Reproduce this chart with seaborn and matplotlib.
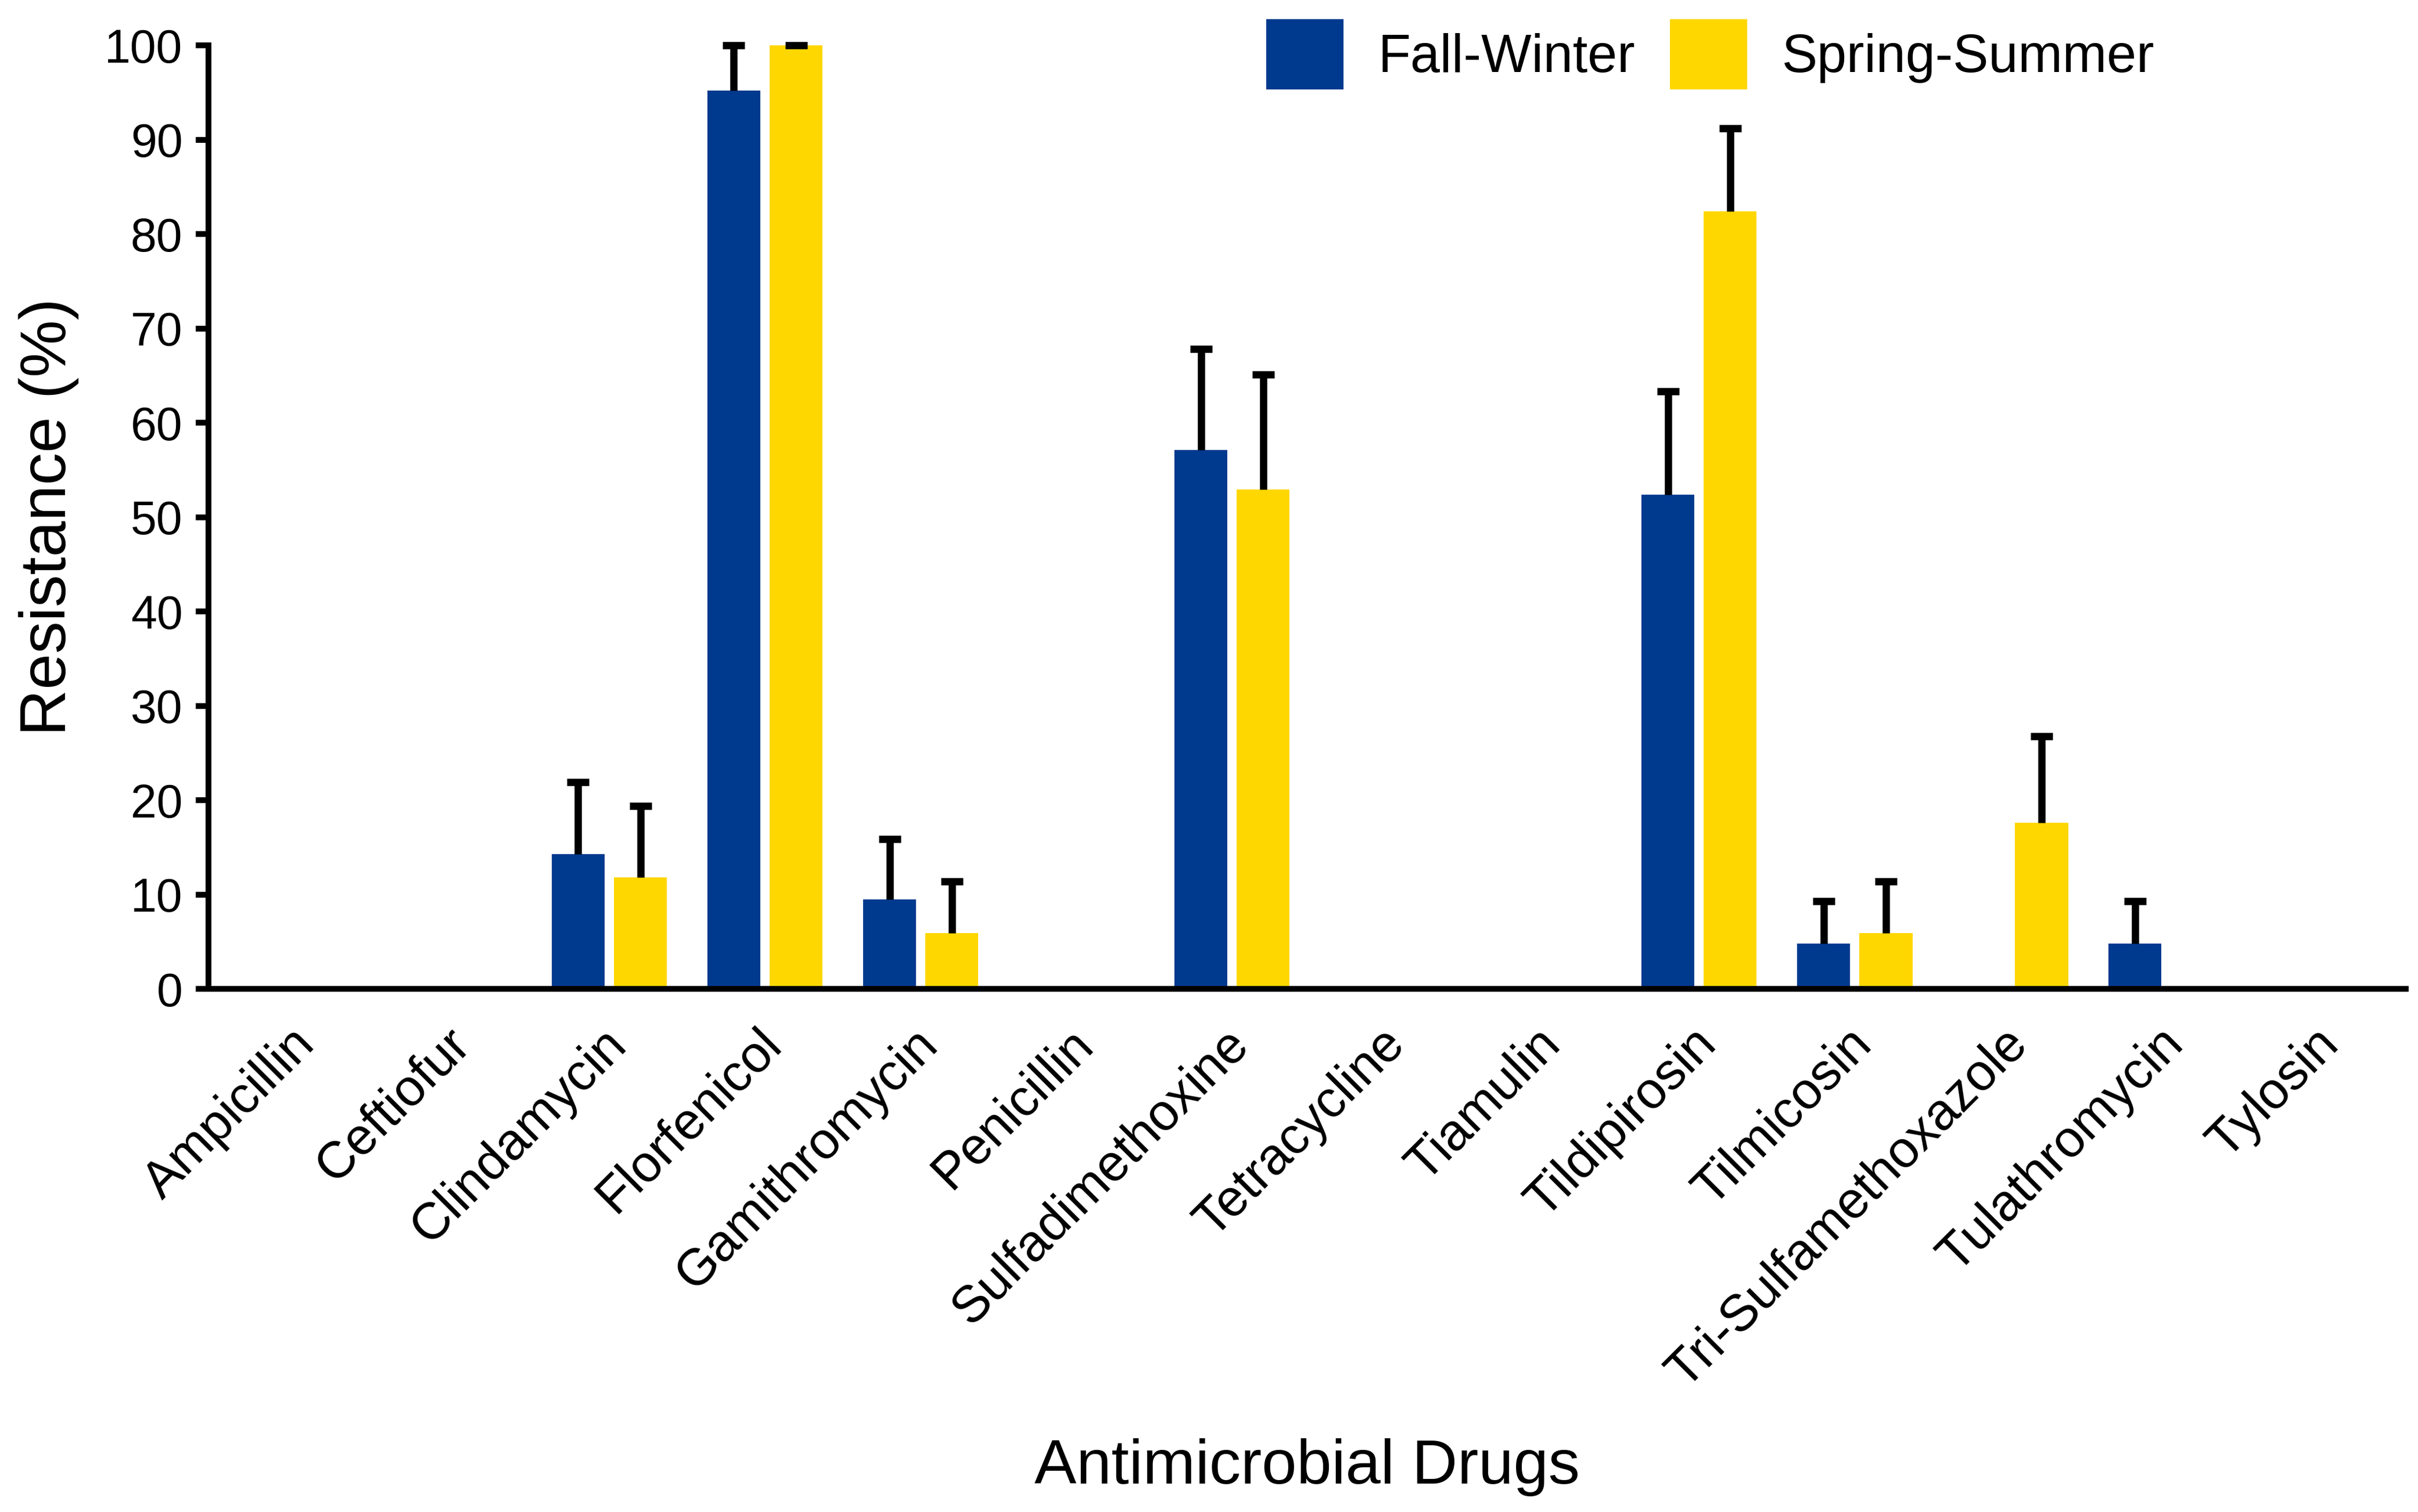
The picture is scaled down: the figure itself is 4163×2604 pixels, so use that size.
import pandas as pd
import seaborn as sns
import matplotlib.pyplot as plt
from matplotlib.transforms import ScaledTranslation

# Data
drugs = ['Ampicillin', 'Ceftiofur', 'Clindamycin', 'Florfenicol', 'Gamithromycin',
         'Penicillin', 'Sulfadimethoxine', 'Tetracycline', 'Tiamulin', 'Tildipirosin',
         'Tilmicosin', 'Tri-Sulfamethoxazole', 'Tulathromycin', 'Tylosin']
fall_winter = [0, 0, 14.3, 95.2, 9.5, 0, 57.1, 0, 0, 52.4, 4.8, 0, 4.8, 0]
spring_summer = [0, 0, 11.8, 100, 5.9, 0, 52.9, 0, 0, 82.4, 5.9, 17.6, 0, 0]
# upper end of error bars
fall_winter_upper = [0, 0, 21.9, 100, 15.9, 0, 67.8, 0, 0, 63.3, 9.3, 0, 9.3, 0]
spring_summer_upper = [0, 0, 19.4, 100, 11.4, 0, 65.1, 0, 0, 91.2, 11.4, 26.8, 0, 0]

seasons = ['Fall-Winter', 'Spring-Summer']
colors = ['#003A8F', '#FFD700']

df = pd.DataFrame({
    'drug': drugs * 2,
    'season': [seasons[0]] * len(drugs) + [seasons[1]] * len(drugs),
    'resistance': fall_winter + spring_summer,
})
uppers = [fall_winter_upper, spring_summer_upper]

sns.set_style('ticks')
plt.rcParams['font.family'] = ['Liberation Sans', 'DejaVu Sans']
plt.rcParams['text.color'] = 'black'
plt.rcParams['axes.labelcolor'] = 'black'
plt.rcParams['xtick.color'] = 'black'
plt.rcParams['ytick.color'] = 'black'

fig = plt.figure(figsize=(20.815, 13.02), dpi=200)
ax = fig.add_axes([0.0862, 0.346, 0.995 - 0.0862, 0.970 - 0.346])

sns.barplot(data=df, x='drug', y='resistance', hue='season', order=drugs,
            hue_order=seasons, palette=colors, width=0.8, gap=0.15,
            saturation=1, linewidth=0, errorbar=None, ax=ax)

# one-sided (upper) error bars: stem + cap
for cont, up in zip(ax.containers, uppers):
    for bar, u in zip(cont, up):
        h = bar.get_height()
        if h <= 0:
            continue
        x = bar.get_x() + bar.get_width() / 2
        if u > h:
            ax.vlines(x, h, u, colors='black', linewidth=4.5, zorder=5)
        ax.plot([x], [u], marker='_', markersize=13.5, markeredgewidth=4.5,
                color='black', zorder=6, clip_on=False)

ax.set_xlim(-0.575, 13.54)
ax.set_ylim(0, 100)
ax.set_yticks(range(0, 101, 10))
ax.tick_params(axis='y', length=8, width=3.6, labelsize=29, pad=8)
ax.tick_params(axis='x', length=0, labelsize=32, pad=19)
shift = ScaledTranslation(-5 / 72, 0, fig.dpi_scale_trans)
for lab in ax.get_xticklabels():
    lab.set_rotation(45)
    lab.set_ha('right')
    lab.set_rotation_mode('anchor')
    lab.set_transform(lab.get_transform() + shift)

for side in ['left', 'bottom']:
    ax.spines[side].set_linewidth(3.6)
    ax.spines[side].set_color('black')
sns.despine(ax=ax)

ax.set_ylabel('Resistance (%)', fontsize=40, labelpad=16)
ax.set_xlabel('Antimicrobial Drugs', fontsize=39)
ax.xaxis.set_label_coords(0.5, -0.507)
ax.xaxis.label.set_va('center')

handles, labels = ax.get_legend_handles_labels()
ax.legend(handles, labels, ncol=2, frameon=False, fontsize=33,
          loc='center right', bbox_to_anchor=(0.891, 0.964),
          bbox_transform=fig.transFigure, borderpad=0, borderaxespad=0,
          handlelength=1.45, handleheight=1.65, handletextpad=0.65,
          columnspacing=0.65)

fig.savefig('out.png', dpi=200, facecolor='white')
